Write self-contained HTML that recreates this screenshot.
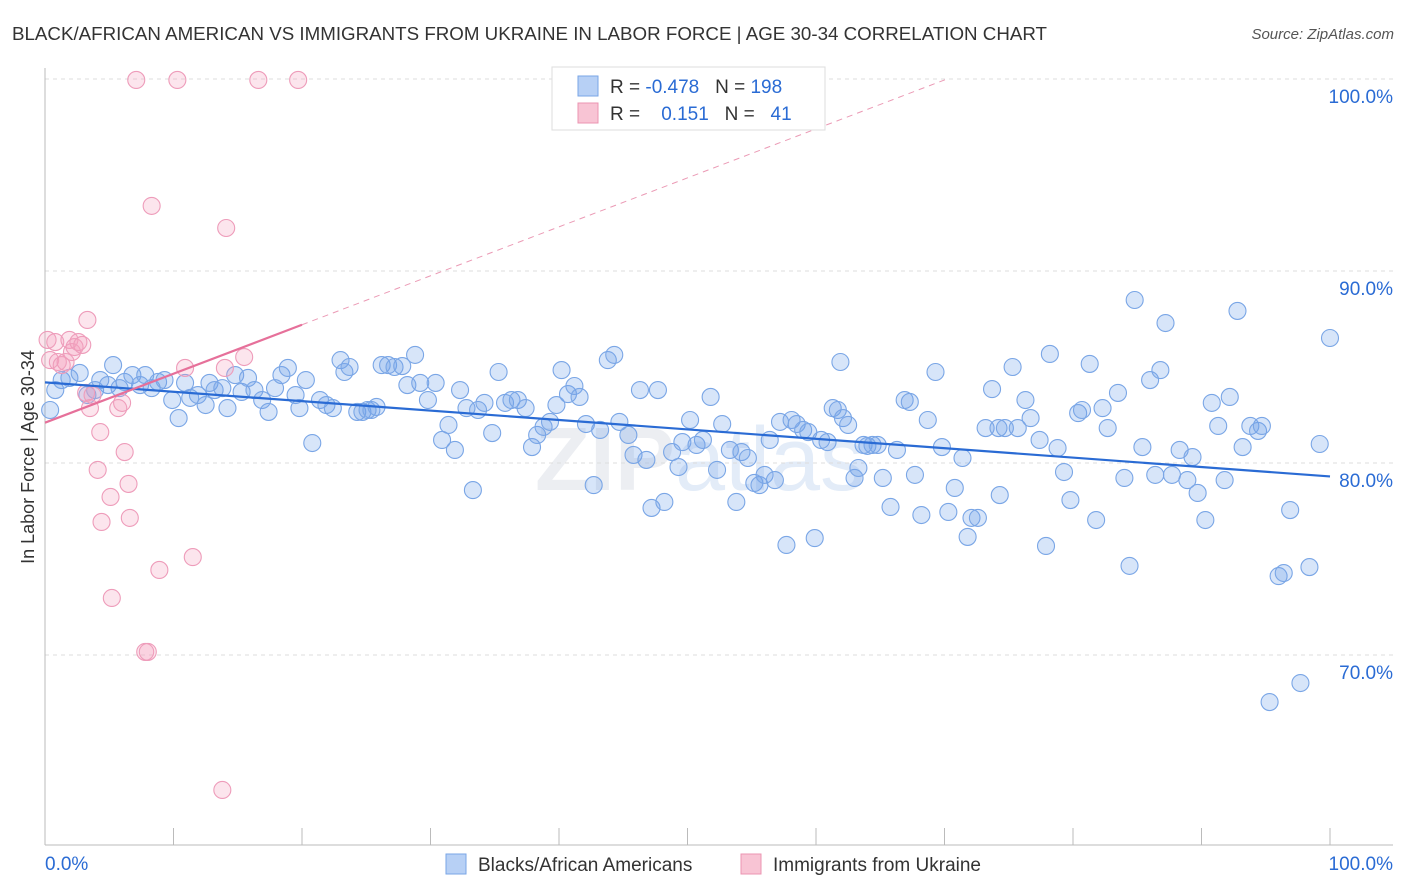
<!DOCTYPE html>
<html><head><meta charset="utf-8"><style>
body{margin:0;background:#fff;font-family:"Liberation Sans",sans-serif}
svg{display:block}
</style></head><body>
<svg id="chart" width="1406" height="892" xmlns="http://www.w3.org/2000/svg">
<text x="12" y="40" font-size="18.5" fill="#333" textLength="1035" lengthAdjust="spacingAndGlyphs">BLACK/AFRICAN AMERICAN VS IMMIGRANTS FROM UKRAINE IN LABOR FORCE | AGE 30-34 CORRELATION CHART</text>
<text x="1394" y="39" font-size="15" fill="#555" font-style="italic" text-anchor="end">Source: ZipAtlas.com</text>
<text x="700" y="490" font-size="90" fill="#eceef2" text-anchor="middle" font-weight="bold">ZIP<tspan fill="#e3ecf8" font-weight="normal">atlas</tspan></text>
<g id="grid"></g><g id="axes"></g><g id="marks"></g>
<text transform="translate(34,457) rotate(-90)" font-size="18" fill="#333" text-anchor="middle">In Labor Force | Age 30-34</text>
<g>
<rect x="552" y="67" width="273" height="63" fill="#fff" stroke="#ddd"/>
<rect x="578" y="76" width="20" height="20" fill="#b7d0f5" stroke="#7aa6e6"/>
<rect x="578" y="103" width="20" height="20" fill="#f8c4d4" stroke="#eb94b2"/>
<text x="610" y="93" font-size="19" fill="#333" xml:space="preserve">R = <tspan fill="#2a6bd4">-0.478</tspan>   N = <tspan fill="#2a6bd4">198</tspan></text>
<text x="610" y="120" font-size="19" fill="#333" xml:space="preserve">R =    <tspan fill="#2a6bd4">0.151</tspan>   N =   <tspan fill="#2a6bd4">41</tspan></text>
</g>
<g>
<rect x="446" y="854" width="20" height="20" fill="#b7d0f5" stroke="#7aa6e6"/>
<text x="478" y="871" font-size="19" fill="#333">Blacks/African Americans</text>
<rect x="741" y="854" width="20" height="20" fill="#f8c4d4" stroke="#eb94b2"/>
<text x="773" y="871" font-size="19" fill="#333">Immigrants from Ukraine</text>
</g>
</svg>
<script>
const blueX=[0.4,0.8,1.3,1.9,2.7,3.3,3.9,4.3,4.9,5.3,5.8,6.2,6.8,7.4,7.8,8.3,8.8,9.3,9.9,10.4,10.9,11.3,11.9,12.5,12.8,13.2,13.8,14.2,14.8,15.3,15.8,16.3,16.9,17.4,17.9,18.4,18.9,19.5,19.8,20.3,20.8,21.4,21.9,22.4,23.0,23.3,23.7,24.3,24.7,25.1,25.4,25.8,26.2,26.7,27.2,27.8,28.2,28.8,29.2,29.8,30.4,30.9,31.4,31.9,32.3,32.8,33.3,33.7,34.2,34.8,35.3,35.8,36.3,36.8,37.4,37.9,38.3,38.8,39.3,39.8,40.2,40.7,41.2,41.6,42.1,42.7,43.2,43.8,44.3,44.7,45.4,45.8,46.3,46.8,47.2,47.7,48.2,48.8,49.3,49.6,50.2,50.7,51.2,51.8,52.3,52.7,53.3,53.8,54.2,54.7,55.2,55.6,56.0,56.4,56.8,57.2,57.7,58.1,58.5,59.0,59.4,59.9,60.4,60.9,61.3,61.7,62.1,61.9,62.5,63.0,63.3,63.7,64.0,64.4,64.8,65.2,65.8,66.3,66.9,67.3,67.7,68.2,68.7,69.3,69.8,70.3,70.8,71.4,71.8,72.1,72.6,73.2,73.7,74.2,74.3,74.7,75.3,75.7,76.3,76.7,77.4,77.9,78.2,78.8,79.3,79.8,80.4,80.7,81.3,81.8,82.3,82.7,83.5,84.0,84.4,84.8,85.4,86.0,86.4,86.8,87.2,87.7,88.3,88.9,89.3,89.7,90.3,90.8,91.3,91.8,92.2,92.8,93.2,93.8,94.4,94.7,95.3,96.0,96.4,96.9,97.7,98.4,99.2,100];
const blueY=[82.76,83.8,84.32,84.43,84.69,83.54,83.8,84.32,84.06,85.1,83.9,84.22,84.58,84.06,84.58,83.9,84.22,84.32,83.28,82.34,84.17,83.39,83.54,83.02,84.17,83.8,83.9,82.86,84.58,83.7,84.43,83.8,83.28,82.66,83.9,84.58,84.95,83.54,82.86,84.32,81.04,83.28,83.02,82.86,85.36,84.74,85.0,82.66,82.66,82.76,82.76,82.92,85.1,85.1,85.0,85.05,84.06,85.63,84.17,83.28,84.17,81.2,81.98,80.68,83.8,82.86,78.59,82.76,83.13,81.56,84.74,83.13,83.28,83.28,82.86,80.83,81.46,81.88,82.14,83.02,84.84,83.59,84.01,83.44,82.03,78.85,81.72,85.36,85.63,82.14,81.46,80.42,83.8,80.16,77.66,83.8,77.97,80.57,79.79,81.09,82.24,80.94,81.2,83.44,79.64,82.03,80.68,77.97,80.57,80.26,78.96,78.85,79.38,81.2,79.11,82.14,75.73,82.24,82.03,81.72,81.61,76.09,81.2,81.09,82.86,82.76,82.34,85.26,81.98,79.22,79.74,80.94,80.89,80.94,80.94,79.22,77.71,80.68,83.28,83.18,79.38,77.29,82.24,84.74,80.83,77.45,78.7,80.26,76.15,77.14,77.14,81.82,83.85,81.82,78.33,81.82,85.0,81.82,83.28,82.34,81.2,75.68,85.68,80.78,79.53,78.07,82.6,82.76,85.16,77.03,82.86,81.82,83.65,79.22,74.64,88.49,80.83,84.32,79.38,84.84,87.29,79.38,80.68,79.11,80.31,78.44,77.03,83.13,81.93,79.11,83.44,87.92,80.83,81.93,81.67,81.93,67.55,74.11,74.27,77.55,68.54,74.58,80.99,86.51];
const pinkX=[0.2,0.4,0.8,1.0,1.3,1.6,1.9,2.1,2.3,2.6,2.9,3.3,3.2,3.5,3.7,4.1,4.3,4.4,5.1,5.2,5.7,6.0,6.2,6.5,6.6,7.1,7.8,8.0,8.3,8.9,10.3,10.9,11.5,13.8,14.0,14.1,15.5,16.6,19.7];
const pinkY=[86.41,85.36,86.3,85.26,85.1,85.26,86.41,85.78,86.04,86.3,86.15,87.45,83.65,82.86,83.54,79.64,81.61,76.93,78.23,72.97,82.86,83.13,80.57,78.91,77.14,99.95,70.16,70.16,93.39,74.43,99.95,84.95,75.1,62.97,84.95,92.24,85.52,99.95,99.95];
const yTicks=[100,90,80,70];
const blueTrend=[84.2,79.3];
const pinkTrend=[82.1,0.255];
const NS="http://www.w3.org/2000/svg";
const X0=45,X1=1330,Y100=79,PXY=19.2;
const sx=v=>X0+(X1-X0)*v/100;
const sy=v=>Y100+(100-v)*PXY;
function mk(tag,attrs,parent){const e=document.createElementNS(NS,tag);for(const k in attrs)e.setAttribute(k,attrs[k]);parent.appendChild(e);return e;}
const grid=document.getElementById('grid'),axes=document.getElementById('axes'),marks=document.getElementById('marks');
yTicks.forEach(t=>{
 const l=mk('line',{x1:45,x2:1393,y1:sy(t),y2:sy(t),stroke:'#ddd','stroke-dasharray':'4,4'},grid);
 
 
 const tx=mk('text',{x:1393,y:sy(t)+24,'font-size':19,fill:'#2a6bd4','text-anchor':'end'},axes);
 tx.textContent=t.toFixed(1)+'%';
 
 
});
const ax=mk('line',{x1:45,x2:1393,y1:845,y2:845,stroke:'#bbb'},axes);


const ay=mk('line',{x1:45,x2:45,y1:68,y2:845,stroke:'#bbb'},axes);


for(let i=1;i<=10;i++){const t=mk('line',{x1:sx(i*10),x2:sx(i*10),y1:828,y2:845,stroke:'#bbb'},axes);
 
 }
[['0.0%',45,'start'],['100.0%',1393,'end']].forEach(a=>{const t=mk('text',{x:a[1],y:870,'font-size':19,fill:'#2a6bd4','text-anchor':a[2]},axes);t.textContent=a[0];
 
 });
blueX.forEach((x,i)=>{const c=mk('circle',{cx:sx(x),cy:sy(blueY[i]),r:8.5,fill:'rgba(110,160,235,0.28)',stroke:'#7aa6e6','stroke-width':1.1},marks);
 
 });
pinkX.forEach((x,i)=>{const c=mk('circle',{cx:sx(x),cy:sy(pinkY[i]),r:8.5,fill:'rgba(245,160,190,0.28)',stroke:'#ee9cba','stroke-width':1.1},marks);
 
 });
const bt=mk('line',{x1:sx(0),y1:sy(blueTrend[0]),x2:sx(100),y2:sy(blueTrend[1]),stroke:'#2a6bd4','stroke-width':2.2},marks);


const pe=(100-pinkTrend[0])/pinkTrend[1];
const pd=mk('line',{x1:sx(20),y1:sy(pinkTrend[0]+20*pinkTrend[1]),x2:sx(pe),y2:sy(100),stroke:'#eb9ab5','stroke-width':1,'stroke-dasharray':'6,5'},marks);


const ps=mk('line',{x1:sx(0),y1:sy(pinkTrend[0]),x2:sx(20),y2:sy(pinkTrend[0]+20*pinkTrend[1]),stroke:'#e6709a','stroke-width':2.2},marks);


</script>
</body></html>
